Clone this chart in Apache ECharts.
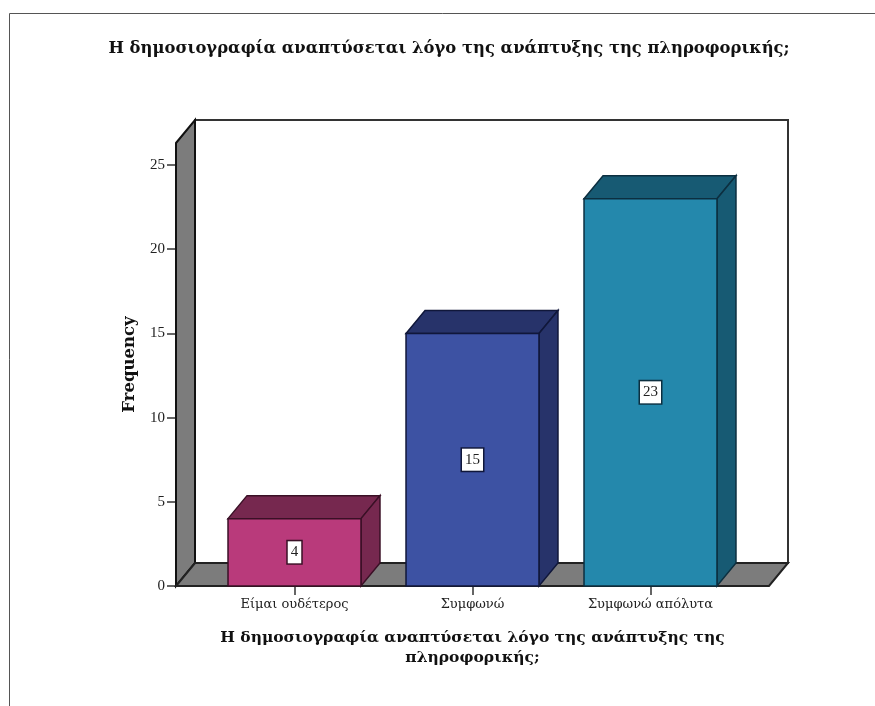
<!DOCTYPE html>
<html>
<head>
<meta charset="utf-8">
<style>html,body{margin:0;padding:0;background:#fff}#c{width:875px;height:706px}</style>
<script src="https://cdn.jsdelivr.net/npm/echarts@6/dist/echarts.min.js"></script>
</head>
<body>
<div id="c"></div>
<script>
const chartTitle = 'Η δημοσιογραφία αναπτύσεται λόγο της ανάπτυξης της πληροφορικής;';
const xTitle = 'Η δημοσιογραφία αναπτύσεται λόγο της ανάπτυξης της\nπληροφορικής;';
const yTitle = 'Frequency';
const categories = ['Είμαι ουδέτερος', 'Συμφωνώ', 'Συμφωνώ απόλυτα'];
const frequencies = [4, 15, 23];
const frontColors = ['#B93A7B', '#3D52A3', '#2488AC'];
const darkColors = ['#76284F', '#27336A', '#175A73'];
const edgeColors = ['#3A1026', '#10173A', '#0C2F40'];

const DX = 19, DY = -23;        // oblique depth of the 3D box
const PAD = 29.5;               // floor overhang each side of the category band
const TOP_EXTRA = 22;           // wall rises above the top tick
const BAR_RATIO = 0.747;
const SERIF = '"Liberation Serif","Times New Roman",serif';
const WIDE_SERIF = '"DejaVu Serif",serif';

function poly(points, fill, stroke, lw) {
  return { type: 'polygon', shape: { points }, style: { fill, stroke, lineWidth: lw, lineJoin: 'miter' } };
}

function renderBox(params, api) {
  const c = params.coordSys;
  const l = c.x - PAD, r = c.x + c.width + PAD, b = c.y + c.height, t = c.y - TOP_EXTRA;
  return {
    type: 'group',
    children: [
      poly([[l + DX, t + DY], [r + DX, t + DY], [r + DX, b + DY], [l + DX, b + DY]], '#ffffff', '#333333', 2),
      poly([[l, t], [l + DX, t + DY], [l + DX, b + DY], [l, b]], '#7C7C7C', '#111111', 2),
      poly([[l, b], [r, b], [r + DX, b + DY], [l + DX, b + DY]], '#7C7C7C', '#222222', 2)
    ]
  };
}

function renderBar(params, api) {
  const i = api.value(0), v = api.value(1);
  const top = api.coord([i, v]), base = api.coord([i, 0]);
  const w = api.size([1, 0])[0] * BAR_RATIO;
  const x1 = top[0] - w / 2, x2 = top[0] + w / 2, y1 = top[1], y0 = base[1];
  const front = frontColors[i], dark = darkColors[i], edge = edgeColors[i];
  return {
    type: 'group',
    children: [
      poly([[x1, y1], [x2, y1], [x2 + DX, y1 + DY], [x1 + DX, y1 + DY]], dark, edge, 1.5),
      poly([[x2, y1], [x2 + DX, y1 + DY], [x2 + DX, y0 + DY], [x2, y0]], dark, edge, 1.5),
      poly([[x1, y1], [x2, y1], [x2, y0], [x1, y0]], front, edge, 1.5),
      {
        type: 'text',
        style: {
          text: String(v), x: top[0], y: (y1 + y0) / 2, align: 'center', verticalAlign: 'middle',
          font: '15px ' + SERIF, fill: '#222',
          backgroundColor: '#ffffff', borderColor: edge, borderWidth: 1.5, padding: [4, 3, 3, 3]
        }
      }
    ]
  };
}

const chart = echarts.init(document.getElementById('c'), null, { renderer: 'canvas' });
chart.setOption({
  backgroundColor: '#ffffff',
  animation: false,
  title: {
    text: chartTitle, left: 444, top: 36, textAlign: 'center',
    textStyle: { fontFamily: WIDE_SERIF, fontWeight: 'bold', fontSize: 16.4, color: '#111' }
  },
  grid: { left: 205.5, width: 534, top: 165, height: 421 },
  xAxis: {
    type: 'category', data: categories,
    axisLine: { show: false },
    axisTick: { show: true, alignWithLabel: true, length: 9, lineStyle: { color: '#333', width: 1.5 } },
    axisLabel: { fontFamily: WIDE_SERIF, fontSize: 13, color: '#222', margin: 12, interval: 0 },
    name: xTitle, nameLocation: 'middle', nameGap: 42,
    nameTextStyle: { fontFamily: WIDE_SERIF, fontWeight: 'bold', fontSize: 15.5, color: '#111', lineHeight: 20 }
  },
  yAxis: {
    type: 'value', min: 0, max: 25, interval: 5, offset: PAD,
    splitLine: { show: false },
    axisLine: { show: false },
    axisTick: { show: true, length: 9, lineStyle: { color: '#333', width: 1.5 } },
    axisLabel: { fontFamily: SERIF, fontSize: 15, color: '#222', margin: 11 },
    name: yTitle, nameLocation: 'middle', nameGap: 38,
    nameTextStyle: { fontFamily: WIDE_SERIF, fontWeight: 'bold', fontSize: 16.5, color: '#111', padding: [0, 0, 0, 22] }
  },
  graphic: [
    { type: 'polyline', silent: true, shape: { points: [[9.5, 706], [9.5, 13.5], [875, 13.5]] },
      style: { stroke: '#555555', lineWidth: 1, fill: null } }
  ],
  series: [
    { type: 'custom', renderItem: renderBox, data: [[0, 0]], silent: true, z: 1 },
    { type: 'custom', renderItem: renderBar, z: 2, silent: true,
      encode: { x: 0, y: 1 },
      data: frequencies.map((v, i) => [i, v]) }
  ]
});
</script>
</body>
</html>
